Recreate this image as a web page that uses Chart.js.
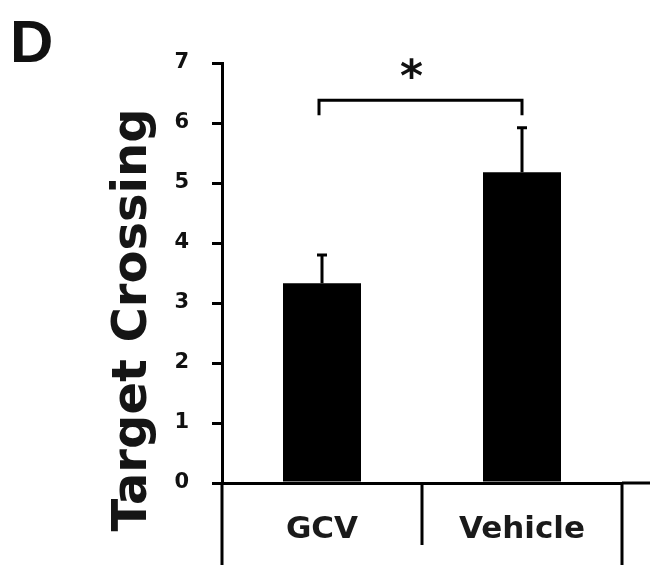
<!DOCTYPE html>
<html>
<head>
<meta charset="utf-8">
<script src="https://cdn.jsdelivr.net/npm/chart.js@4.4.1/dist/chart.umd.min.js"></script>
<style>
  html, body { margin: 0; padding: 0; background: #fff; }
  canvas { display: block; }
</style>
</head>
<body>
<canvas id="barChart" width="650" height="565"></canvas>
<script>
const categories = ["GCV", "Vehicle"];
const means = [3.33, 5.18];
const errors = [0.47, 0.74];
const yTicks = [0, 1, 2, 3, 4, 5, 6, 7];
const sigLevel = 6.38;
const sigDrop = 0.25;
const sigLabel = "*";
const panelLabel = "D";
const yTitle = "Target Crossing";

const INK = "#111";

// error bars, significance bracket, panel letter, dividers and axis title
const extras = {
  id: "extras",
  afterDatasetsDraw(chart) {
    const ctx = chart.ctx;
    const y = chart.scales.y;
    const x = chart.scales.x;
    const area = chart.chartArea;
    const bars = chart.getDatasetMeta(0).data;
    ctx.save();
    ctx.strokeStyle = "#000";
    ctx.lineWidth = 3;
    bars.forEach((bar, i) => {
      const top = y.getPixelForValue(means[i] + errors[i]);
      ctx.beginPath();
      ctx.moveTo(bar.x, bar.y);
      ctx.lineTo(bar.x, top);
      ctx.moveTo(bar.x - 5, top);
      ctx.lineTo(bar.x + 5, top);
      ctx.stroke();
    });

    // bracket
    const x0 = bars[0].x - 3, x1 = bars[1].x;
    const yb = y.getPixelForValue(sigLevel);
    const yd = y.getPixelForValue(sigLevel - sigDrop);
    ctx.beginPath();
    ctx.moveTo(x0, yd);
    ctx.lineTo(x0, yb);
    ctx.lineTo(x1, yb);
    ctx.lineTo(x1, yd);
    ctx.stroke();
    ctx.fillStyle = INK;
    ctx.font = "bold 44px 'DejaVu Sans'";
    ctx.textAlign = "center";
    ctx.textBaseline = "middle";
    ctx.fillText(sigLabel, (x0 + x1) / 2 - 9, y.getPixelForValue(6.72));

    // category dividers below the axis
    const n = categories.length;
    const bottom = chart.height;
    ctx.beginPath();
    for (let i = 0; i <= n; i++) {
      const px = x.left + (x.right - x.left) * i / n;
      ctx.moveTo(px, area.bottom);
      ctx.lineTo(px, (i === 0 || i === n) ? bottom : area.bottom + 62);
    }
    ctx.moveTo(x.right, area.bottom);
    ctx.lineTo(chart.width, area.bottom);
    ctx.stroke();

    // panel letter
    ctx.font = "bold 60px 'Liberation Sans'";
    ctx.textAlign = "left";
    ctx.textBaseline = "alphabetic";
    ctx.fillText(panelLabel, 10, 62);

    // y axis title
    ctx.translate(146, 320);
    ctx.rotate(-Math.PI / 2);
    ctx.font = "bold 48px 'DejaVu Sans'";
    ctx.textAlign = "center";
    ctx.fillStyle = "#151515";
    ctx.fillText(yTitle, 0, 0);
    ctx.restore();
  }
};

const CHART = document.getElementById("barChart");
let barChart = new Chart(CHART, {
  type: "bar",
  data: {
    labels: categories,
    datasets: [
      {
        data: means,
        backgroundColor: "#000",
        borderWidth: 0,
        barPercentage: 0.39,
        categoryPercentage: 1.0,
      }
    ]
  },
  options: {
    responsive: false,
    animation: false,
    layout: { padding: { left: 0, top: 63, right: 28, bottom: 0 } },
    plugins: {
      legend: { display: false },
      tooltip: { enabled: false },
    },
    scales: {
      x: {
        grid: { display: false, drawTicks: false },
        border: { display: true, color: "#000", width: 3 },
        ticks: {
          color: "#1a1a1a",
          padding: 28,
          font: { family: "'DejaVu Sans'", size: 31, weight: "bold" },
        },
        afterFit(scale) { scale.height = 82; },
      },
      y: {
        min: 0,
        max: 7,
        afterBuildTicks(scale) { scale.ticks = yTicks.map(v => ({ value: v })); },
        grid: {
          drawOnChartArea: false,
          drawTicks: true,
          tickLength: 10,
          tickColor: "#000",
          lineWidth: 3,
        },
        border: { display: true, color: "#000", width: 3 },
        ticks: {
          color: INK,
          padding: 23,
          font: { family: "'DejaVu Sans'", size: 21, weight: "bold" },
        },
        afterFit(scale) { scale.width = 222; },
      }
    }
  },
  plugins: [extras]
});
</script>
</body>
</html>
